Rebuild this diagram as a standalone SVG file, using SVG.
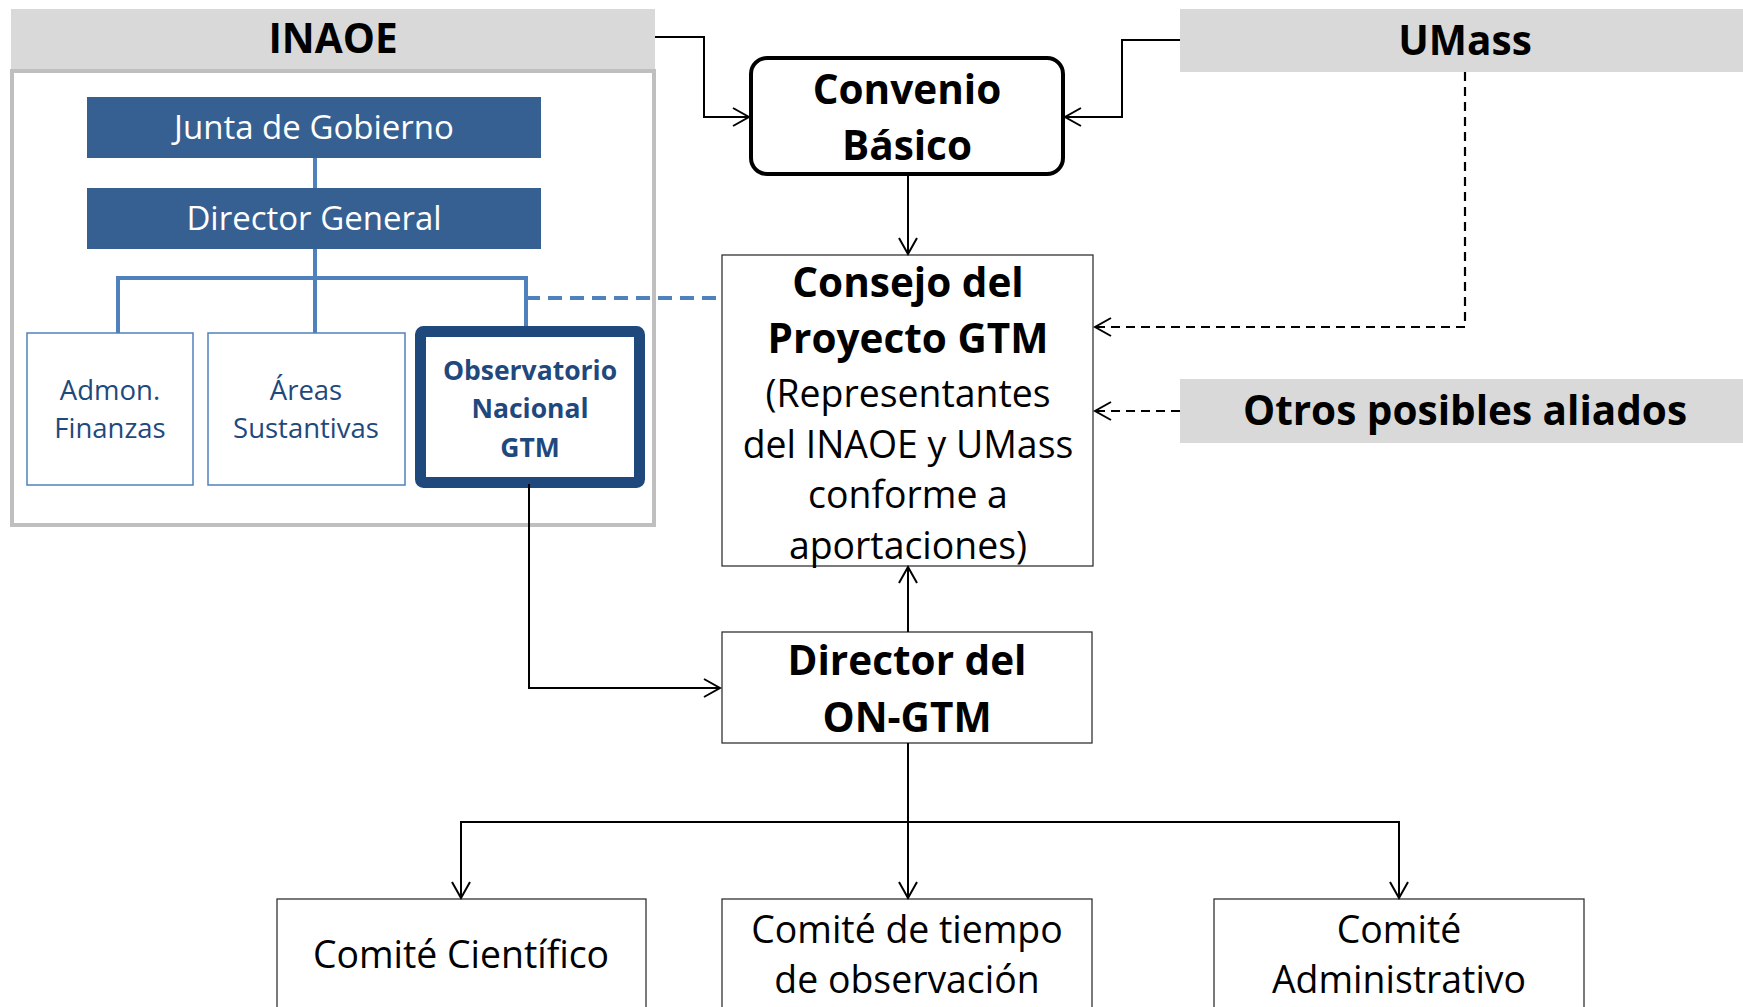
<svg xmlns="http://www.w3.org/2000/svg" width="1743" height="1007" viewBox="0 0 1743 1007">
<defs>
<marker id="arr" markerUnits="userSpaceOnUse" viewBox="0 0 20 20" markerWidth="20" markerHeight="20" refX="18" refY="10" orient="auto">
<path d="M2,1 L18,10 L2,19" fill="none" stroke="#000" stroke-width="2"/>
</marker>
<style>
text{font-family:"Open Sans","Noto Sans","Liberation Sans",sans-serif;text-anchor:middle}
.b{font-weight:bold}
.hdr{fill:#d9d9d9}
.hdrt{font-size:40.5px;font-weight:bold;fill:#000}
.dark{fill:#376092}
.wt{fill:#fff;font-size:33px}
.sub{fill:#fff;stroke:#4f81bd;stroke-width:1.5}
.subt{fill:#1f497d;font-size:27.5px}
.obt{fill:#1f497d;font-size:26.5px;font-weight:bold}
.box{fill:#fff;stroke:#333;stroke-width:1.3}
.bt{font-size:40.5px;font-weight:bold;fill:#000}
.rt{font-size:37.4px;fill:#000}
.c{fill:none;stroke:#000;stroke-width:2}
.d{fill:none;stroke:#000;stroke-width:2.2;stroke-dasharray:9,6}
.bl{fill:none;stroke:#4f81bd;stroke-width:4}
</style>
</defs>
<rect width="1743" height="1007" fill="#fff"/>

<g id="inaoe">
<rect class="hdr" x="11" y="9" width="644" height="60"/>
<text class="hdrt" x="333" y="53" font-size="41">INAOE</text>
<rect x="12" y="71" width="642" height="454" fill="#fff" stroke="#bfbfbf" stroke-width="4"/>
</g>

<g id="org-connectors">
<path class="bl" d="M315,158 V188 M315,249 V333 M118,333 V278 H526 V326"/>
<path class="bl" d="M526,298 H722" stroke-dasharray="14,8"/>
</g>

<g id="junta">
<rect class="dark" x="87" y="97" width="454" height="61"/>
<text class="wt" x="314" y="139">Junta de Gobierno</text>
</g>
<g id="director-general">
<rect class="dark" x="87" y="188" width="454" height="61"/>
<text class="wt" x="314" y="230">Director General</text>
</g>
<g id="admon">
<rect class="sub" x="27" y="333" width="166" height="152"/>
<text class="subt" x="110" y="400">Admon.</text>
<text class="subt" x="110" y="438">Finanzas</text>
</g>
<g id="areas">
<rect class="sub" x="208" y="333" width="197" height="152"/>
<text class="subt" x="306" y="400">Áreas</text>
<text class="subt" x="306" y="438">Sustantivas</text>
</g>
<g id="observatorio">
<rect x="420.5" y="331.5" width="219" height="151" rx="3" fill="#fff" stroke="#1f497d" stroke-width="11"/>
<text class="obt" x="530" y="380">Observatorio</text>
<text class="obt" x="530" y="418">Nacional</text>
<text class="obt" x="530" y="457">GTM</text>
</g>

<g id="umass">
<rect class="hdr" x="1180" y="9" width="563" height="63"/>
<text class="hdrt" x="1465" y="55" font-size="41">UMass</text>
</g>
<g id="otros">
<rect class="hdr" x="1180" y="379" width="563" height="64"/>
<text class="hdrt" x="1465" y="425" font-size="40">Otros posibles aliados</text>
</g>

<g id="convenio">
<rect x="751" y="58" width="312" height="116" rx="16" fill="#fff" stroke="#000" stroke-width="4"/>
<text class="bt" x="907" y="104" font-size="40">Convenio</text>
<text class="bt" x="907" y="160" font-size="40">Básico</text>
</g>

<g id="consejo">
<rect class="box" x="722" y="255" width="371" height="311"/>
<text class="bt" x="908" y="297">Consejo del</text>
<text class="bt" x="908" y="353">Proyecto GTM</text>
<text class="rt" x="908" y="407">(Representantes</text>
<text class="rt" x="908" y="458">del INAOE y UMass</text>
<text class="rt" x="908" y="508">conforme a</text>
<text class="rt" x="908" y="559">aportaciones)</text>
</g>

<g id="director-on-gtm">
<rect class="box" x="722" y="632" width="370" height="111"/>
<text class="bt" x="907" y="675" font-size="40">Director del</text>
<text class="bt" x="907" y="732">ON-GTM</text>
</g>

<g id="comite-cientifico">
<rect class="box" x="277" y="899" width="369" height="130"/>
<text class="rt" x="461" y="968">Comité Científico</text>
</g>
<g id="comite-tiempo">
<rect class="box" x="722" y="899" width="370" height="130"/>
<text class="rt" x="907" y="943">Comité de tiempo</text>
<text class="rt" x="907" y="993">de observación</text>
</g>
<g id="comite-admin">
<rect class="box" x="1214" y="899" width="370" height="130"/>
<text class="rt" x="1399" y="943">Comité</text>
<text class="rt" x="1399" y="993">Administrativo</text>
</g>

<g id="connectors">
<path class="c" d="M655,37 H704 V117 H749" marker-end="url(#arr)"/>
<path class="c" d="M1180,40 H1122 V117 H1065" marker-end="url(#arr)"/>
<path class="c" d="M908,174 V254" marker-end="url(#arr)"/>
<path class="d" d="M1465,72 V327 H1095" marker-end="url(#arr)"/>
<path class="d" d="M1180,411 H1095" marker-end="url(#arr)"/>
<path class="c" d="M908,632 V567" marker-end="url(#arr)"/>
<path class="c" d="M529,484 V688 H720" stroke-width="2.5" marker-end="url(#arr)"/>
<path class="c" d="M908,743 V898" marker-end="url(#arr)"/>
<path class="c" d="M461,822 H1399" stroke-width="2.5"/>
<path class="c" d="M461,821 V898" marker-end="url(#arr)"/>
<path class="c" d="M1399,821 V898" marker-end="url(#arr)"/>
</g>
</svg>
